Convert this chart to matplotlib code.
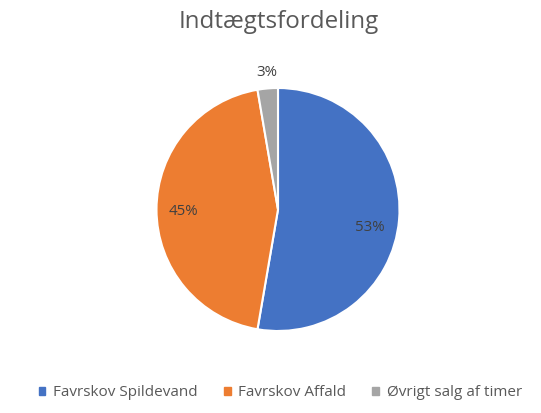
import numpy as np
import matplotlib.pyplot as plt

# data
labels = ["Favrskov Spildevand", "Favrskov Affald", "Øvrigt salg af timer"]
shares = [52.7, 44.6, 2.7]
colors = ["#4472C4", "#ED7D31", "#A5A5A5"]

plt.rcParams["font.family"] = ["Open Sans", "DejaVu Sans"]

W, H, dpi = 541, 413, 100
fig = plt.figure(figsize=(W / dpi, H / dpi), dpi=dpi)

# pie axes placed in pixels
cx, cy, r = 278, 209.5, 121.5
ax = fig.add_axes([(cx - r) / W, (H - cy - r) / H, 2 * r / W, 2 * r / H])

wedges, texts, autotexts = ax.pie(
    shares, colors=colors, startangle=90, counterclock=False,
    autopct="%1.0f%%", pctdistance=0.78,
    wedgeprops=dict(edgecolor="white", linewidth=1.5),
    textprops=dict(color="#404040", fontsize=10.8),
)
ax.set_xlim(-1, 1)
ax.set_ylim(-1, 1)
ax.set_aspect("equal")
ax.axis("off")

# small slice label outside the pie
w = wedges[2]
mid = np.deg2rad((w.theta1 + w.theta2) / 2)
autotexts[2].set_position((1.13 * np.cos(mid), 1.13 * np.sin(mid)))
# Excel best-fit nudges
x0, y0 = autotexts[0].get_position()
autotexts[0].set_position((x0 - 0.02, y0 - 0.08))
x1, y1 = autotexts[1].get_position()
autotexts[1].set_position((x1, y1 - 0.02))

fig.text(279 / W, 1 - 22 / H, "Indtægtsfordeling", ha="center", va="center",
         fontsize=17.4, color="#595959")

handles = [plt.Rectangle((0, 0), 1, 1, color=c) for c in colors]
fig.legend(handles, labels, loc="center", bbox_to_anchor=(0.518, 1 - 393 / H),
           ncol=3, frameon=False, fontsize=11, labelcolor="#595959",
           handlelength=0.45, handleheight=0.45, handletextpad=0.5,
           columnspacing=1.7)

fig.savefig("out.png", dpi=dpi)
